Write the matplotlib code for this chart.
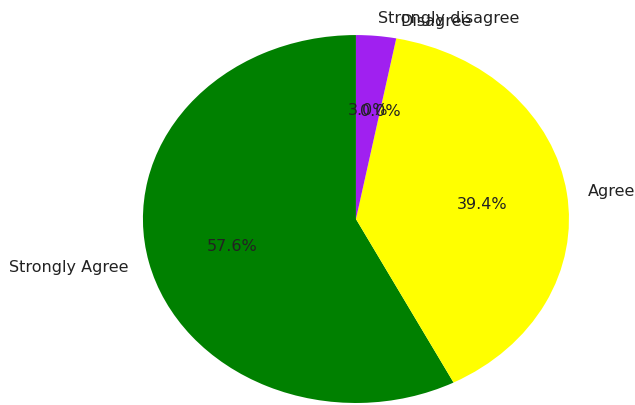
import matplotlib
matplotlib.use("Agg")
import matplotlib.pyplot as plt

# survey answers (counts)
labels = ['Strongly Agree', 'Agree', 'Disagree', 'Strongly disagree']
counts = [19, 13, 0, 1]
colors = ['green', 'yellow', 'red', '#a020f0']

fig = plt.figure(figsize=(6.35, 4.06), dpi=100)
ax = fig.add_axes([0, 0, 1, 1])
ax.pie(counts, labels=labels, colors=colors, autopct='%1.1f%%', startangle=90,
       textprops={'fontsize': 11.5, 'color': '#222222'})
ax.set_aspect('auto')
ax.set_xlim(-1.671, 1.310)
ax.set_ylim(-1.011, 1.196)
ax.axis('off')

fig.savefig('out.png', dpi=100)
